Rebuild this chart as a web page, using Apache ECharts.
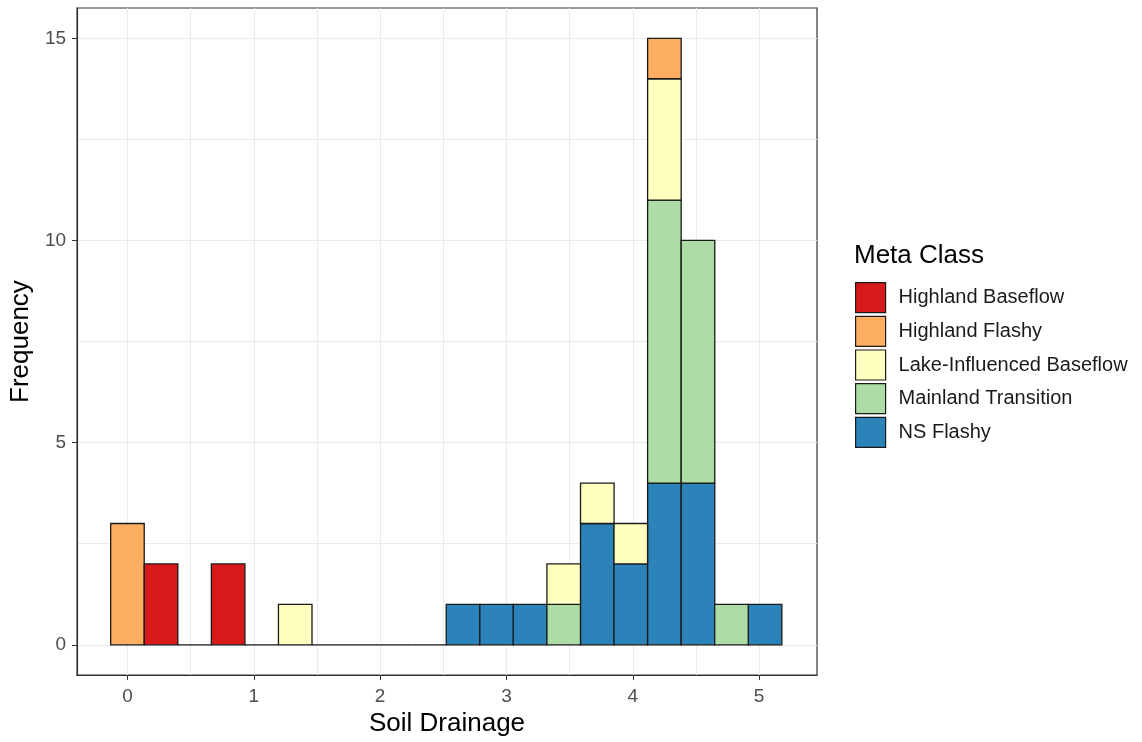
<!DOCTYPE html>
<html>
<head>
<meta charset="utf-8">
<title>Soil Drainage histogram</title>
<script src="https://cdn.jsdelivr.net/npm/echarts@6.0.0/dist/echarts.min.js"></script>
<style>
  html, body { margin: 0; padding: 0; background: #fff; }
  #chart { width: 1142px; height: 742px; }
</style>
</head>
<body>
<div id="chart"></div>
<script>
  // bin centres (Soil Drainage), 20 bins
  const binCenters = [0, 0.266, 0.531, 0.797, 1.062, 1.328, 1.594, 1.859, 2.125, 2.391,
                      2.656, 2.922, 3.187, 3.453, 3.719, 3.984, 4.25, 4.516, 4.781, 5.047];
  const binWidth = 0.2656;

  // classes, bottom of stack first
  const classNames = ['NS Flashy', 'Mainland Transition', 'Lake-Influenced Baseflow', 'Highland Flashy', 'Highland Baseflow'];
  const classColors = ['#2B83BA', '#ABDDA4', '#FFFFBF', '#FDAE61', '#D7191C'];
  const legendOrder = ['Highland Baseflow', 'Highland Flashy', 'Lake-Influenced Baseflow', 'Mainland Transition', 'NS Flashy'];

  // counts per bin
  const nsFlashy         = [0, 0, 0, 0, 0, 0, 0, 0, 0, 0, 1, 1, 1, 0, 3, 2, 4, 4, 0, 1];
  const mainlandTrans    = [0, 0, 0, 0, 0, 0, 0, 0, 0, 0, 0, 0, 0, 1, 0, 0, 7, 6, 1, 0];
  const lakeBaseflow     = [0, 0, 0, 0, 0, 1, 0, 0, 0, 0, 0, 0, 0, 1, 1, 1, 3, 0, 0, 0];
  const highlandFlashy   = [3, 0, 0, 0, 0, 0, 0, 0, 0, 0, 0, 0, 0, 0, 0, 0, 1, 0, 0, 0];
  const highlandBaseflow = [0, 2, 0, 2, 0, 0, 0, 0, 0, 0, 0, 0, 0, 0, 0, 0, 0, 0, 0, 0];
  const classCounts = [nsFlashy, mainlandTrans, lakeBaseflow, highlandFlashy, highlandBaseflow];

  // tick labels / grid positions
  const xTicks = [0, 1, 2, 3, 4, 5];
  const xMinor = [0.5, 1.5, 2.5, 3.5, 4.5];
  const yTicks = [0, 5, 10, 15];
  const yMinor = [2.5, 7.5, 12.5];

  const FONT = 'Liberation Sans, Arial, sans-serif';
  const GRID_COLOR = '#EBEBEB';
  const INK = '#333333';
  const BAR_EDGE = '#1a1a1a';

  // stacked [center, bottom, top] per class
  const running = binCenters.map(() => 0);
  const stacked = classCounts.map(counts => {
    const out = [];
    counts.forEach((c, i) => {
      if (c > 0) out.push([binCenters[i], running[i], running[i] + c]);
      running[i] += c;
    });
    return out;
  });
  // empty bins still get a flat outline at zero
  const emptyBins = binCenters.filter((c, i) => running[i] === 0).map(c => [c, 0, 0]);

  function renderRect(params, api) {
    const x = api.value(0);
    const p0 = api.coord([x - binWidth / 2, api.value(2)]);
    const p1 = api.coord([x + binWidth / 2, api.value(1)]);
    return {
      type: 'rect',
      shape: { x: p0[0], y: p0[1], width: p1[0] - p0[0], height: p1[1] - p0[1] },
      style: { fill: api.visual('color'), stroke: BAR_EDGE, lineWidth: 1.3 }
    };
  }

  function renderBaseline(params, api) {
    const x = api.value(0);
    const p0 = api.coord([x - binWidth / 2, 0]);
    const p1 = api.coord([x + binWidth / 2, 0]);
    return {
      type: 'line',
      shape: { x1: p0[0], y1: p0[1], x2: p1[0], y2: p1[1] },
      style: { stroke: BAR_EDGE, lineWidth: 1.3 }
    };
  }

  const series = classNames.map((name, k) => ({
    name: name,
    type: 'custom',
    renderItem: renderRect,
    itemStyle: { color: classColors[k], borderColor: BAR_EDGE, borderWidth: 1 },
    encode: { x: 0, y: [1, 2] },
    data: stacked[k],
    z: 3
  }));
  series.push({
    name: 'baseline',
    type: 'custom',
    renderItem: renderBaseline,
    encode: { x: 0, y: 1 },
    data: emptyBins,
    silent: true,
    z: 3
  });

  const minorAxisCommon = {
    axisLine: { show: false },
    axisLabel: { show: false },
    splitLine: { show: true, lineStyle: { color: GRID_COLOR, width: 1 } }
  };

  const chart = echarts.init(document.getElementById('chart'), null, { renderer: 'canvas' });
  chart.setOption({
    animation: false,
    backgroundColor: '#ffffff',
    textStyle: { fontFamily: FONT },
    title: {
      text: 'Meta Class',
      left: 854,
      top: 243,
      padding: 0,
      textStyle: { fontFamily: FONT, fontSize: 26, fontWeight: 'normal', color: '#000' }
    },
    legend: {
      data: legendOrder,
      orient: 'vertical',
      left: 855,
      top: 282,
      padding: 0,
      itemWidth: 30,
      itemHeight: 30,
      itemGap: 2.5,
      icon: 'rect',
      itemStyle: { borderColor: BAR_EDGE, borderWidth: 1.2 },
      textStyle: { fontFamily: FONT, fontSize: 20, color: '#1a1a1a', padding: [0, 0, 0, 8] },
      selectedMode: false
    },
    grid: {
      left: 76, top: 8, right: 325, bottom: 65,
      show: true, borderColor: INK, borderWidth: 1.2, backgroundColor: 'transparent'
    },
    xAxis: [{
      type: 'value',
      min: -0.399, max: 5.458,
      name: 'Soil Drainage',
      nameLocation: 'middle',
      nameGap: 27,
      nameTextStyle: { fontFamily: FONT, fontSize: 26, color: '#000' },
      axisLine: { show: true, onZero: false, lineStyle: { color: INK, width: 1.2 } },
      axisTick: { show: true, length: 5, lineStyle: { color: INK }, customValues: xTicks },
      axisLabel: { customValues: xTicks, fontFamily: FONT, fontSize: 19, color: '#4D4D4D', margin: 12 },
      splitLine: { show: true, lineStyle: { color: GRID_COLOR, width: 1 } }
    }, Object.assign({
      type: 'value', min: -0.399, max: 5.458, position: 'bottom'
    }, minorAxisCommon, { axisTick: { show: false, customValues: xMinor } })],
    yAxis: [{
      type: 'value',
      min: -0.75, max: 15.75,
      name: 'Frequency',
      nameLocation: 'middle',
      nameGap: 38,
      nameTextStyle: { fontFamily: FONT, fontSize: 26, color: '#000' },
      axisLine: { show: true, onZero: false, lineStyle: { color: INK, width: 1.2 } },
      axisTick: { show: true, length: 5, lineStyle: { color: INK }, customValues: yTicks },
      axisLabel: { customValues: yTicks, fontFamily: FONT, fontSize: 19, color: '#4D4D4D', margin: 11 },
      splitLine: { show: true, lineStyle: { color: GRID_COLOR, width: 1 } }
    }, Object.assign({
      type: 'value', min: -0.75, max: 15.75, position: 'left'
    }, minorAxisCommon, { axisTick: { show: false, customValues: yMinor } })],
    series: series
  });
</script>
</body>
</html>
